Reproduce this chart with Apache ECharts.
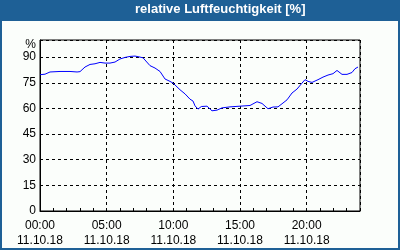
<!DOCTYPE html>
<html>
<head>
<meta charset="utf-8">
<script src="https://cdn.jsdelivr.net/npm/echarts@6/dist/echarts.min.js"></script>
<style>
html,body{margin:0;padding:0;background:#fbfefb;}
#c{width:400px;height:250px;}
</style>
</head>
<body>
<div id="c"></div>
<script>
const titleText = 'relative Luftfeuchtigkeit [%]';
const dateLabel = '11.10.18';
const hours = [0,0.375,0.75,1.5,2.25,2.78,3,3.375,3.75,4.125,4.5,4.875,5.25,5.625,6,6.375,6.75,7.125,7.5,7.725,7.875,8.25,8.625,9,9.375,9.75,9.975,10.125,10.5,10.875,11.25,11.475,11.625,11.85,12,12.1,12.525,12.9,13.275,13.65,14.25,14.625,15,15.75,16.275,16.65,17.1,17.475,17.85,18.15,18.525,18.9,19.275,19.65,19.875,20.1,20.4,20.85,21.225,21.6,21.975,22.275,22.65,23.025,23.4,23.625,23.85];
const humidity = [79.7,80,81.3,81.6,81.6,81.3,81.5,84.2,85.7,86.1,86.9,86.5,86.5,87.1,88.9,89.8,90.4,90.6,90,89.6,88.5,85,83.6,81.6,77.2,75.8,74.8,73.8,70.9,68.5,65.4,64.3,61.5,59.6,59.8,61.1,61.3,58.6,59,60.3,60.9,61.1,61.3,61.7,63.9,62.9,59.8,60.8,60.9,62.7,65,69,71.3,74.8,76.8,75.8,75.2,76.8,78.3,79.5,80.3,82.2,79.9,79.9,81,83.2,84.2];
const xTicks = [0,5,10,15,20];
const xTickLabels = ['00:00','05:00','10:00','15:00','20:00'];
const yTicks = [0,15,30,45,60,75,90];

const blue = '#1e6096';
const font = '"Liberation Sans", Arial, sans-serif';
const chart = echarts.init(document.getElementById('c'), null, {renderer:'canvas'});
chart.setOption({
  backgroundColor: '#fbfefb',
  animation: false,
  graphic: [
    {type:'rect', shape:{x:0,y:0,width:400,height:21}, style:{fill:blue}, z:0},
    {type:'rect', shape:{x:0,y:0,width:2,height:250}, style:{fill:blue}, z:0},
    {type:'rect', shape:{x:398,y:0,width:2,height:250}, style:{fill:blue}, z:0},
    {type:'rect', shape:{x:0,y:248,width:400,height:2}, style:{fill:blue}, z:0},
    {type:'text', left:135, top:3, style:{text:titleText, fill:'#ffffff', font:'bold 13px ' + font}, z:1}
  ],
  grid: {left:40, right:40, top:40, bottom:39, show:true, borderColor:'#000', borderWidth:1, backgroundColor:'transparent'},
  xAxis: {
    type:'value', min:0, max:24, interval:5,
    axisLine:{show:true, lineStyle:{color:'#000', width:1}},
    axisTick:{show:true, inside:true, length:3, lineStyle:{color:'#000'}},
    minorTick:{show:true, splitNumber:5, length:3, lineStyle:{color:'#000'}},
    splitLine:{show:true, lineStyle:{color:'#000', type:[3,3], width:1}},
    axisLabel:{
      margin:7, color:'#000', fontSize:12, lineHeight:15,
      fontFamily:font,
      showMaxLabel:false,
      formatter: v => { const i = xTicks.indexOf(v); return i >= 0 ? xTickLabels[i] + '\n' + dateLabel : ''; }
    }
  },
  yAxis: {
    type:'value', min:0, max:100, interval:15,
    axisLine:{show:true, lineStyle:{color:'#000', width:1}},
    axisTick:{show:false},
    splitLine:{show:true, lineStyle:{color:'#000', type:[3,3], width:1}},
    axisLabel:{
      margin:4, color:'#000', fontSize:12,
      fontFamily:font,
      rich:{p:{padding:[10,0,0,0], fontSize:12, fontFamily:font, color:'#000'}},
      formatter: v => v === 100 ? '{p|%}' : (yTicks.indexOf(v) >= 0 ? String(v) : '')
    }
  },
  series: [{
    type:'line', data: hours.map((h,i)=>[h, humidity[i]]),
    showSymbol:false, smooth:false,
    lineStyle:{color:'#0000ff', width:1}
  }]
});
</script>
</body>
</html>
